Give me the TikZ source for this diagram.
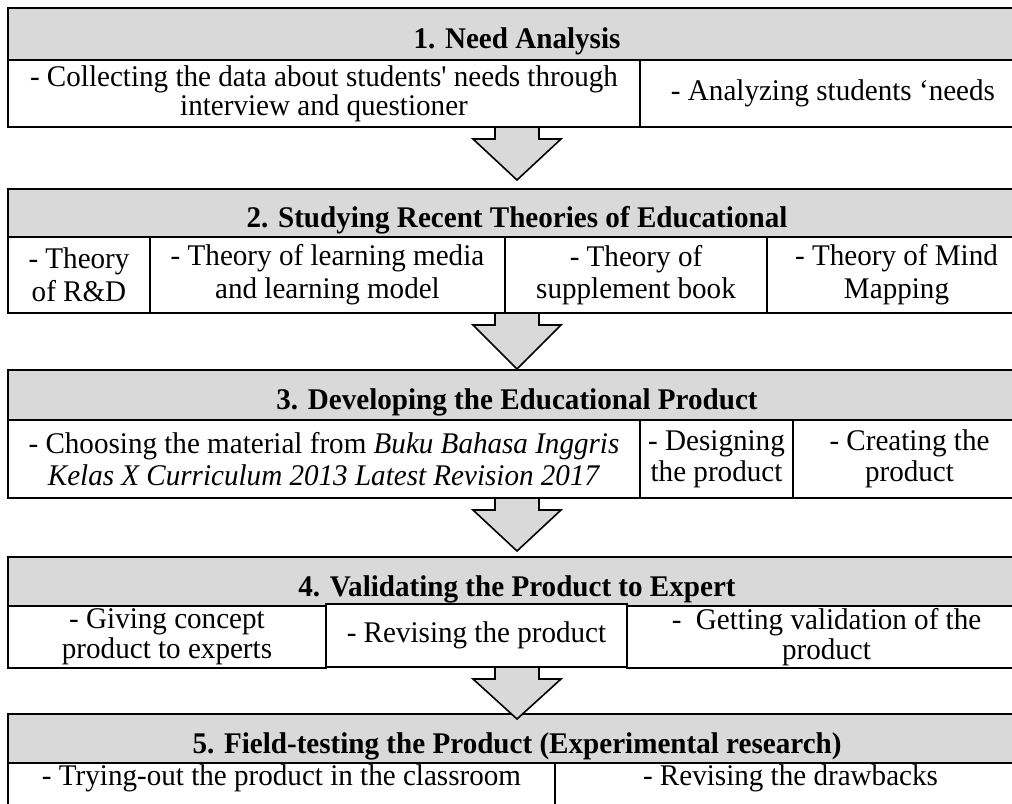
\documentclass[tikz,border=0pt]{standalone}
\usepackage{fontspec}
\setmainfont{Liberation Serif}[FakeStretch=0.97]
\newfontfamily\rawserif{Liberation Serif}[FakeStretch=0.97]
\usetikzlibrary{calc}

\definecolor{headgray}{HTML}{D9D9D9}
\newcommand{\figfont}{\fontsize{22.5}{22.5}\selectfont}

% one box of the table, given by its corners in pixels
\newcommand{\boxat}[6]{\node[#1, minimum width={(#4-#2)*0.75pt}, minimum height={(#5-#3)*0.75pt}] (#6) at ({(#2+#4)/2},{(#3+#5)/2})}

% block arrow from one row down to the next stage
\newcommand{\stagearrow}[3]{%
  \path (#1 -| axis) coordinate (sa) (#2 -| axis) coordinate (ta);
  \fill[headgray] ($(sa)+(-22,0)$) -- ($(sa)+(-22,11)$) -- ($(sa)+(-44,11)$) -- ($(ta)+(0,#3)$)
    -- ($(sa)+(44,11)$) -- ($(sa)+(22,11)$) -- ($(sa)+(22,0)$) -- cycle;
  \draw[line width=1.2pt] ($(sa)+(-22,0)$) -- ($(sa)+(-22,11)$) -- ($(sa)+(-44,11)$) -- ($(ta)+(0,#3)$)
    -- ($(sa)+(44,11)$) -- ($(sa)+(22,11)$) -- ($(sa)+(22,0)$);
}

\tikzset{
  head/.style={draw, line width=1.5pt, fill=headgray, font=\figfont\bfseries,
    text height=24pt, text depth=2pt, inner sep=0pt},
  cell/.style={draw, line width=1.5pt, fill=white, align=center, font=\figfont, inner sep=0pt},
}

\begin{document}
\begin{tikzpicture}[x=0.75pt, y=-0.75pt]
  \useasboundingbox (0,0) rectangle (1012,803);
  \clip (0,0) rectangle (1012,803);
  \coordinate (axis) at (517,0);

  % 1
  \boxat{head}{8}{8}{1026}{60}{hd1} {1. Need Analysis};
  \boxat{cell}{640}{60}{1026}{127}{c12} {- Analyzing students ‘needs};
  \boxat{cell}{8}{60}{640}{127}{c11} {- Collecting the data about students{\rawserif'} needs through\\[-1pt]interview and questioner};

  % 2
  \boxat{head}{8}{189}{1026}{237}{hd2} {2. Studying Recent Theories of Educational};
  \boxat{cell}{8}{237}{150}{313}{c21} {- Theory\\[2pt]of R\&D};
  \boxat{cell}{150}{237}{505}{313}{c22} {- Theory of learning media\\[2pt]and learning model};
  \boxat{cell}{505}{237}{767}{313}{c23} {- Theory of\\[2pt]supplement book};
  \boxat{cell}{767}{237}{1026}{313}{c24} {- Theory of Mind\\[2pt]Mapping};

  % 3
  \boxat{head}{8}{370}{1026}{420}{hd3} {3. Developing the Educational Product};
  \boxat{cell}{8}{420}{640}{498}{c31} {- Choosing the material from \textit{Buku Bahasa Inggris}\\[1pt]\textit{Kelas X Curriculum 2013 Latest Revision 2017}};
  \boxat{cell}{640}{420}{793}{498}{c32} {- Designing\\[1pt]the product};
  \boxat{cell}{793}{420}{1026}{498}{c33} {- Creating the\\[1pt]product};

  % 4
  \boxat{head}{8}{557}{1026}{606}{hd4} {4. Validating the Product to Expert};
  \boxat{cell}{8}{606}{326}{668}{c41} {- Giving concept\\product to experts};
  \boxat{cell}{627}{606}{1026}{668}{c43} {-\ \ Getting validation of the\\product};
  \boxat{cell}{326}{604}{627}{667}{c42} {- Revising the product};

  % 5
  \boxat{head}{8}{714}{1026}{763}{hd5} {5. Field-testing the Product (Experimental research)};
  \boxat{cell}{8}{763}{555}{820}{c51} {- Trying-out the product in the classroom\\[-4pt]\strut};
  \boxat{cell}{555}{763}{1026}{820}{c52} {- Revising the drawbacks\\[-4pt]\strut};

  % arrows between the stages
  \stagearrow{c11.south}{hd2.north}{-8}
  \stagearrow{c22.south}{hd3.north}{0}
  \stagearrow{c31.south}{hd4.north}{-5}
  \stagearrow{c42.south}{hd5.north}{6}
\end{tikzpicture}
\end{document}
